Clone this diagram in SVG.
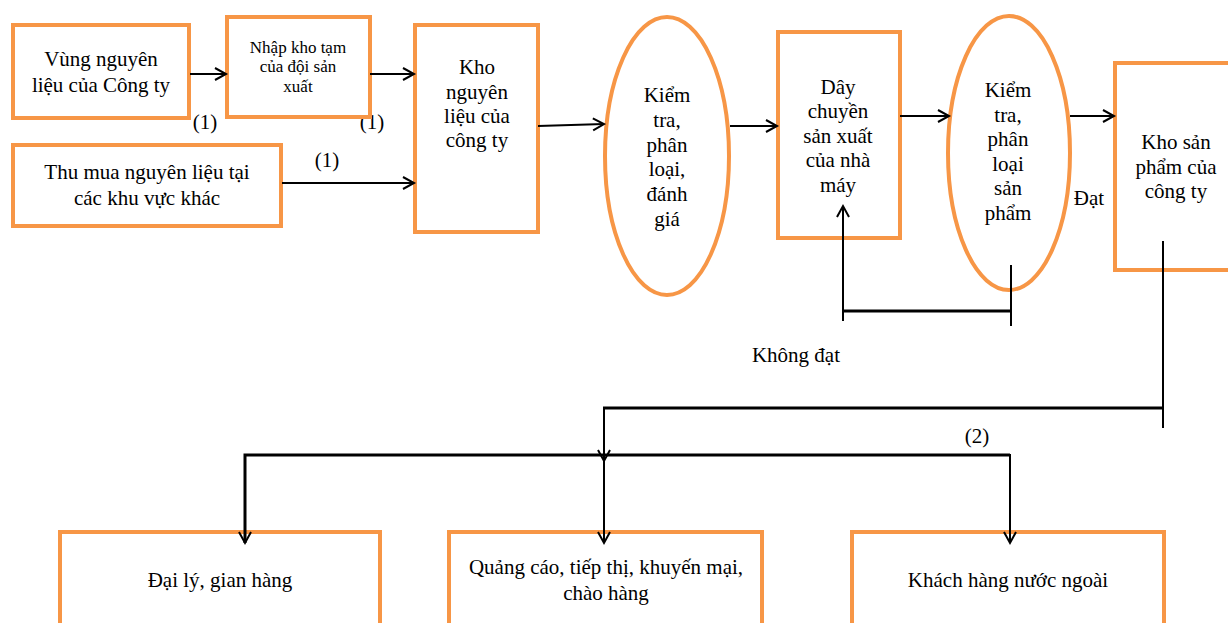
<svg xmlns="http://www.w3.org/2000/svg" width="1228" height="623" viewBox="0 0 1228 623">
<style>
.box{fill:#fff;stroke:#F79646;stroke-width:4}
.t{font-family:'Liberation Serif',serif;font-size:21px;fill:#000;text-anchor:middle}
.s{font-size:17px}
.c{fill:none;stroke:#000;stroke-width:2}
.cb{fill:none;stroke:#000;stroke-width:3}
</style>
<defs>
<marker id="ah" markerUnits="userSpaceOnUse" markerWidth="16" markerHeight="16" refX="12" refY="7" orient="auto" viewBox="0 0 16 14">
<path d="M1,1 L12,7 L1,13" fill="none" stroke="#000" stroke-width="2"/>
</marker>
</defs>
<rect width="1228" height="623" fill="#fff"/>
<text class="t" x="205" y="129">(1)</text>
<text class="t" x="372" y="129">(1)</text>
<text class="t" x="327" y="167">(1)</text>
<text class="t" x="1089" y="205">Đạt</text>
<text class="t" x="796" y="362">Không đạt</text>
<text class="t" x="977" y="443">(2)</text>
<g id="n1"><rect class="box" x="13" y="25" width="176" height="93"/>
<text class="t" x="101" y="66">Vùng nguyên</text><text class="t" x="101" y="92">liệu của Công ty</text></g>
<g id="n2"><rect class="box" x="227" y="17" width="143" height="100"/>
<text class="t s" x="298" y="53">Nhập kho tạm</text><text class="t s" x="298" y="72">của đội sản</text><text class="t s" x="298" y="92">xuất</text></g>
<g id="n3"><rect class="box" x="13" y="145" width="268" height="81"/>
<text class="t" x="147" y="179">Thu mua nguyên liệu tại</text><text class="t" x="147" y="205">các khu vực khác</text></g>
<g id="n4"><rect class="box" x="415" y="25" width="123" height="207"/>
<text class="t" x="477" y="74">Kho</text><text class="t" x="477" y="99">nguyên</text><text class="t" x="477" y="123">liệu của</text><text class="t" x="477" y="147">công ty</text></g>
<g id="n5"><ellipse class="box" cx="667" cy="156" rx="62" ry="139"/>
<text class="t" x="667" y="102">Kiểm</text><text class="t" x="667" y="127">tra,</text><text class="t" x="667" y="152">phân</text><text class="t" x="667" y="176">loại,</text><text class="t" x="667" y="201">đánh</text><text class="t" x="667" y="226">giá</text></g>
<g id="n6"><rect class="box" x="778" y="32" width="122" height="206"/>
<text class="t" x="838" y="94">Dây</text><text class="t" x="838" y="118">chuyền</text><text class="t" x="838" y="143">sản xuất</text><text class="t" x="838" y="167">của nhà</text><text class="t" x="838" y="192">máy</text></g>
<g id="n7"><ellipse class="box" cx="1009" cy="153" rx="61" ry="137"/>
<text class="t" x="1008" y="97">Kiểm</text><text class="t" x="1008" y="122">tra,</text><text class="t" x="1008" y="146">phân</text><text class="t" x="1008" y="171">loại</text><text class="t" x="1008" y="195">sản</text><text class="t" x="1008" y="220">phẩm</text></g>
<g id="n8"><rect class="box" x="1115" y="63" width="120" height="207"/>
<text class="t" x="1176" y="149">Kho sản</text><text class="t" x="1176" y="174">phẩm của</text><text class="t" x="1176" y="198">công ty</text></g>
<g id="n9"><rect class="box" x="60" y="532" width="320" height="100"/>
<text class="t" x="220" y="587">Đại lý, gian hàng</text></g>
<g id="n10"><rect class="box" x="449" y="532" width="313" height="100"/>
<text class="t" x="606" y="574">Quảng cáo, tiếp thị, khuyến mại,</text><text class="t" x="606" y="600">chào hàng</text></g>
<g id="n11"><rect class="box" x="852" y="532" width="312" height="100"/>
<text class="t" x="1008" y="587">Khách hàng nước ngoài</text></g>
<g id="connectors">
<line class="c" x1="190" y1="74" x2="226" y2="74" marker-end="url(#ah)"/>
<line class="c" x1="370" y1="74" x2="414" y2="74" marker-end="url(#ah)"/>
<line class="c" x1="282" y1="183" x2="414" y2="183" marker-end="url(#ah)"/>
<line class="c" x1="538" y1="126" x2="604" y2="124" marker-end="url(#ah)"/>
<line class="c" x1="730" y1="126" x2="777" y2="126" marker-end="url(#ah)"/>
<line class="c" x1="900" y1="116" x2="949" y2="116" marker-end="url(#ah)"/>
<line class="c" x1="1070" y1="116" x2="1114" y2="116" marker-end="url(#ah)"/>
<line class="c" x1="1011" y1="265" x2="1011" y2="326"/>
<polyline class="cb" points="1011,311 843,311"/>
<line class="c" x1="843" y1="321" x2="843" y2="206" marker-end="url(#ah)"/>
<line class="c" x1="1163" y1="241" x2="1163" y2="428"/>
<line class="cb" x1="1163" y1="408" x2="603" y2="408"/>
<line class="c" x1="604" y1="408" x2="604" y2="461" marker-end="url(#ah)"/>
<polyline class="cb" points="245,543 245,455 1010,455"/>
<line class="c" x1="245" y1="460" x2="245" y2="543" marker-end="url(#ah)"/>
<line class="c" x1="604" y1="455" x2="604" y2="543" marker-end="url(#ah)"/>
<line class="c" x1="1010" y1="454" x2="1010" y2="543" marker-end="url(#ah)"/>
</g>
</svg>
